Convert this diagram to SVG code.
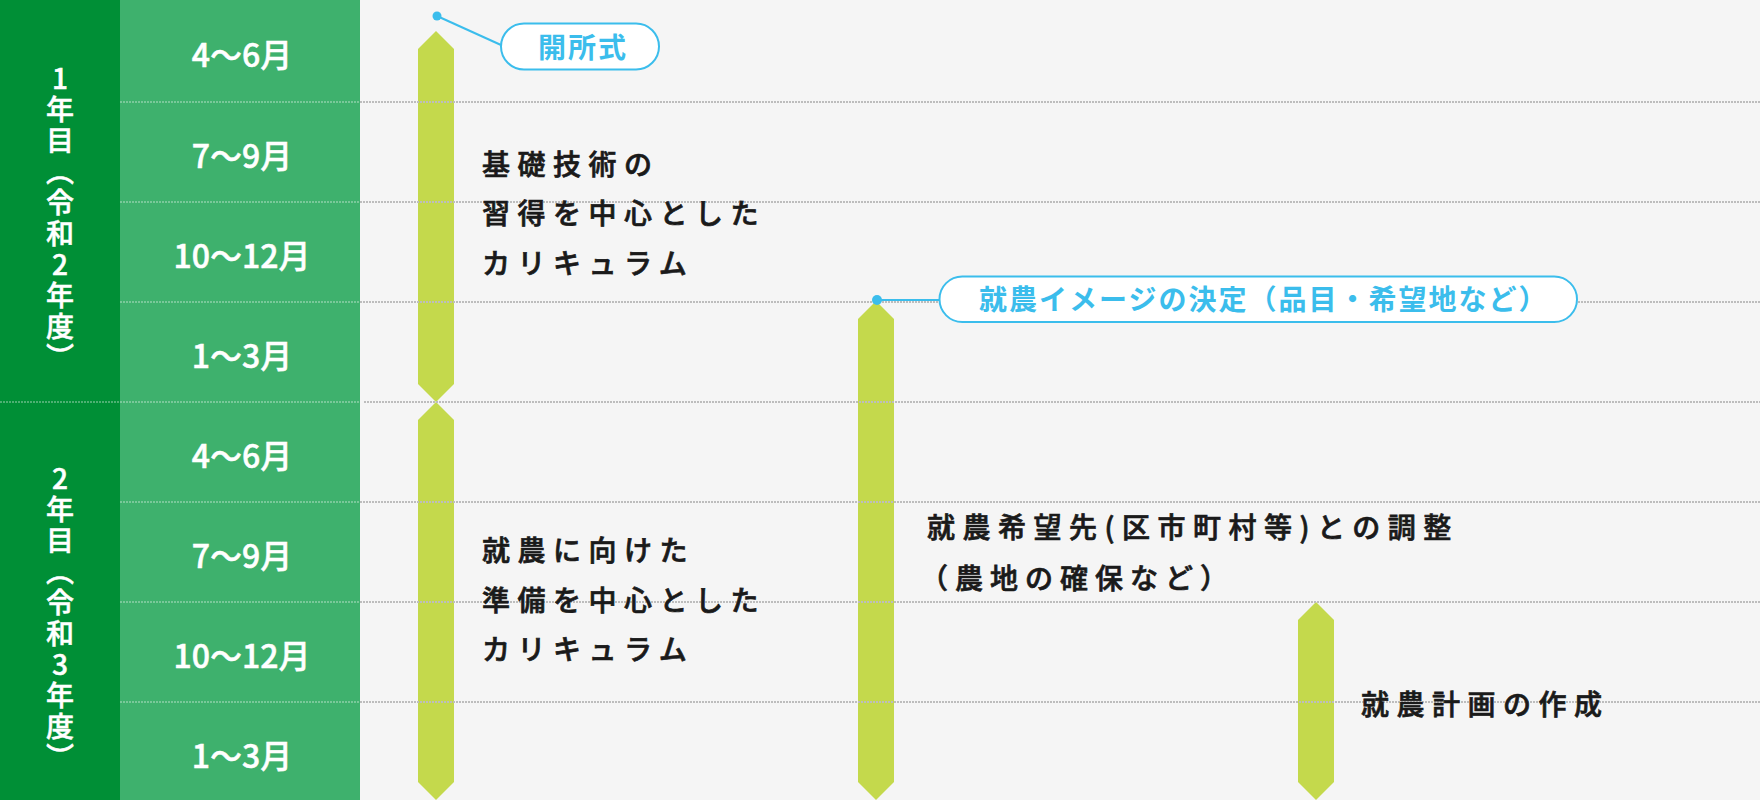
<svg xmlns="http://www.w3.org/2000/svg" width="1760" height="800" viewBox="0 0 1760 800">
<defs>
<style>
.bg{fill:#f5f5f5}
.dark{fill:#008f36}
.light{fill:#3eb16d}
.bar{fill:#c4d94c}
.rowg{stroke:#bdbdbd;stroke-width:2;stroke-dasharray:2 1;fill:none}
.roww{stroke:#ffffff;stroke-opacity:0.3;stroke-width:2;stroke-dasharray:2 1;fill:none}
.year{font-family:"Noto Sans CJK JP","Noto Sans",sans-serif;font-size:28px;font-weight:500;fill:#ffffff;stroke:#ffffff;stroke-width:0.5px;writing-mode:vertical-rl;text-orientation:upright;letter-spacing:3px}
.month{font-family:"Noto Sans CJK JP","Noto Sans",sans-serif;font-size:32px;font-weight:500;fill:#ffffff;stroke:#ffffff;stroke-width:0.5px;text-anchor:middle}
.body{font-family:"Noto Sans CJK JP","Noto Sans",sans-serif;font-size:28px;font-weight:500;fill:#1a1a1a;stroke:#1a1a1a;stroke-width:0.7px;letter-spacing:7.5px}
.pill{fill:#ffffff;stroke:#3bbdec;stroke-width:2}
.ptext{font-family:"Noto Sans CJK JP","Noto Sans",sans-serif;font-size:28px;font-weight:700;fill:#3bbdec;letter-spacing:2px}
.lead{stroke:#3bbdec;stroke-width:2;fill:none}
.dot{fill:#3bbdec}
</style>
</defs>
<rect class="bg" x="0" y="0" width="1760" height="800"/>
<g id="year-column">
<rect class="dark" x="0" y="0" width="120" height="800"/>
<text class="year" x="60" y="64">1年目（令和2年度）</text>
<text class="year" x="60" y="464">2年目（令和3年度）</text>
</g>
<g id="month-column">
<rect class="light" x="120" y="0" width="240" height="800"/>
<text class="month" x="242" y="67">4～6月</text>
<text class="month" x="242" y="168">7～9月</text>
<text class="month" x="242" y="268">10～12月</text>
<text class="month" x="242" y="368">1～3月</text>
<text class="month" x="242" y="468">4～6月</text>
<text class="month" x="242" y="568">7～9月</text>
<text class="month" x="242" y="668">10～12月</text>
<text class="month" x="242" y="768">1～3月</text>
</g>
<g id="bars">
<polygon id="bar-year1" class="bar" points="436,31 454,49 454,384 436,402 418,384 418,49"/>
<polygon id="bar-year2" class="bar" points="436,402 454,420 454,782 436,800 418,782 418,420"/>
<polygon id="bar-coordination" class="bar" points="876,301 894,319 894,782 876,800 858,782 858,319"/>
<polygon id="bar-plan" class="bar" points="1316,602 1334,620 1334,782 1316,800 1298,782 1298,620"/>
</g>
<g id="grid">
<line class="roww" x1="120" y1="102" x2="360" y2="102"/>
<line class="roww" x1="120" y1="202" x2="360" y2="202"/>
<line class="roww" x1="120" y1="302" x2="360" y2="302"/>
<line class="roww" x1="0" y1="402" x2="360" y2="402"/>
<line class="roww" x1="120" y1="502" x2="360" y2="502"/>
<line class="roww" x1="120" y1="602" x2="360" y2="602"/>
<line class="roww" x1="120" y1="702" x2="360" y2="702"/>
<line class="rowg" x1="360" y1="102" x2="1760" y2="102"/>
<line class="rowg" x1="360" y1="202" x2="1760" y2="202"/>
<line class="rowg" x1="360" y1="302" x2="1760" y2="302"/>
<line class="rowg" x1="364" y1="402" x2="1760" y2="402"/>
<line class="rowg" x1="360" y1="502" x2="1760" y2="502"/>
<line class="rowg" x1="360" y1="602" x2="1760" y2="602"/>
<line class="rowg" x1="360" y1="702" x2="1760" y2="702"/>
</g>
<g id="label-basic">
<text class="body" x="482" y="174.5">基礎技術の</text>
<text class="body" x="482" y="224">習得を中心とした</text>
<text class="body" x="482" y="273.5">カリキュラム</text>
</g>
<g id="label-prep">
<text class="body" x="482" y="561">就農に向けた</text>
<text class="body" x="482" y="610.5">準備を中心とした</text>
<text class="body" x="482" y="660">カリキュラム</text>
</g>
<g id="label-coordination">
<text class="body" x="927" y="537.5">就農希望先(区市町村等)との調整</text>
<text class="body" x="920" y="589" style="letter-spacing:7px">（農地の確保など）</text>
</g>
<g id="label-plan">
<text class="body" x="1361" y="715">就農計画の作成</text>
</g>
<g id="connectors">
<line class="lead" x1="437" y1="16" x2="501" y2="45"/>
<circle class="dot" cx="437" cy="16" r="4.5"/>
<line class="lead" x1="877" y1="300" x2="940" y2="300"/>
<circle class="dot" cx="877" cy="300" r="5"/>
</g>
<g id="callout-opening">
<rect class="pill" x="501" y="23.5" width="158" height="46" rx="23"/>
<text class="ptext" x="538" y="58">開所式</text>
</g>
<g id="callout-decision">
<rect class="pill" x="939.5" y="276.5" width="637.5" height="45.5" rx="22.75"/>
<text class="ptext" x="979" y="310">就農イメージの決定（品目・希望地など）</text>
</g>
</svg>
